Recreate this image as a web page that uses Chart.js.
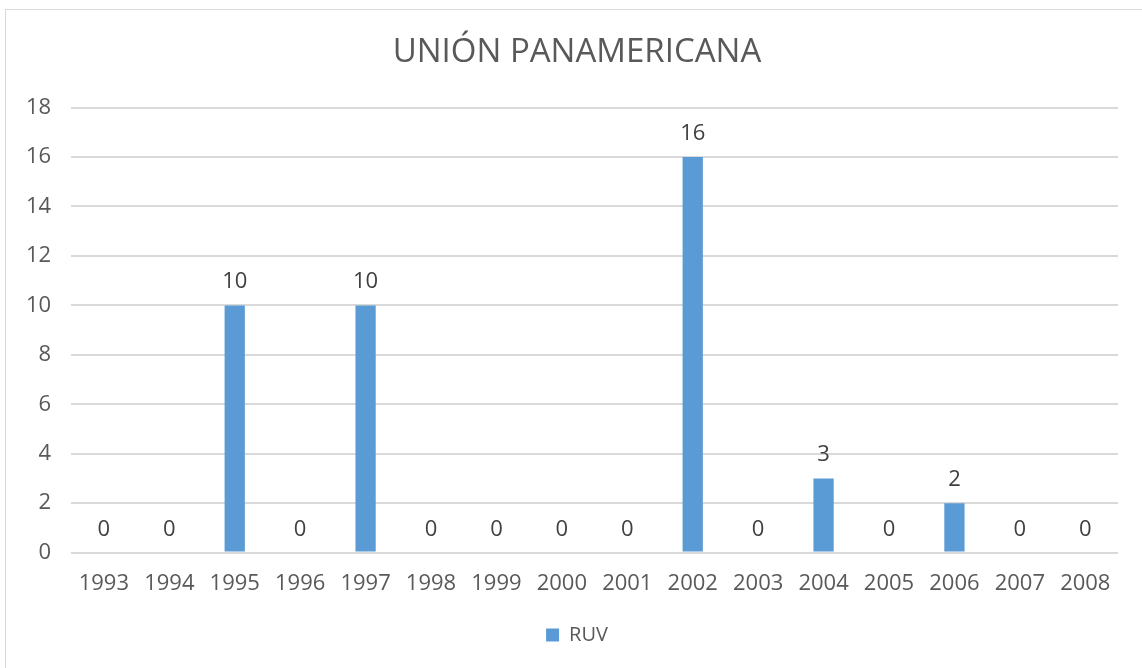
<!DOCTYPE html>
<html>
<head>
<meta charset="utf-8">
<script src="https://cdn.jsdelivr.net/npm/chart.js@4.4.1/dist/chart.umd.min.js"></script>
<style>
  body { margin: 0; background: #fff; overflow: hidden; }
  #marco { position: absolute; left: 5px; top: 9px; width: 1160px; height: 700px; border: 1px solid #d9d9d9; }
  #caja { position: absolute; left: 0; top: 0; width: 1160px; height: 668px; }
</style>
</head>
<body>
<div id="marco"></div>
<div id="caja"><canvas id="GraficoBarras"></canvas></div>
<script>
// datos del grafico
const anios = ['1993', '1994', '1995', '1996', '1997', '1998', '1999', '2000',
               '2001', '2002', '2003', '2004', '2005', '2006', '2007', '2008'];
const valoresRUV = [0, 0, 10, 0, 10, 0, 0, 0, 0, 16, 0, 3, 0, 2, 0, 0];
const titulo = 'UNIÓN PANAMERICANA';
const serie = 'RUV';

// etiquetas encima de cada barra
const etiquetasBarras = {
    id: 'etiquetasBarras',
    afterDatasetsDraw(chart) {
        const ctx = chart.ctx;
        ctx.save();
        ctx.font = '22px "Open Sans"';
        ctx.fillStyle = '#404040';
        ctx.textAlign = 'center';
        ctx.textBaseline = 'alphabetic';
        chart.getDatasetMeta(0).data.forEach(function (barra, i) {
            ctx.fillText(valoresRUV[i], barra.x, barra.y - 17);
        });
        ctx.restore();
    }
};

const ctx = document.getElementById('GraficoBarras');
new Chart(ctx, {
    type: 'bar',
    data: {
        labels: anios,
        datasets: [{
            label: serie,
            data: valoresRUV,
            backgroundColor: '#5b9bd5',
            barPercentage: 0.31,
            categoryPercentage: 1
        }]
    },
    options: {
        responsive: true,
        maintainAspectRatio: false,
        animation: false,
        layout: { padding: { left: 6, right: 12, top: 6, bottom: 13 } },
        plugins: {
            title: {
                display: true,
                text: titulo,
                color: '#595959',
                font: { family: 'Open Sans', size: 33, weight: 'normal' },
                padding: { top: 27, bottom: 35 }
            },
            legend: {
                position: 'bottom',
                labels: {
                    color: '#595959',
                    font: { family: 'Open Sans', size: 20 },
                    boxWidth: 13,
                    boxHeight: 13,
                    padding: 18
                }
            },
            tooltip: { enabled: false }
        },
        scales: {
            x: {
                grid: { display: false },
                border: { display: false },
                ticks: { color: '#595959', font: { family: 'Open Sans', size: 22 }, padding: 10 }
            },
            y: {
                min: 0,
                max: 18,
                ticks: { stepSize: 2, color: '#595959', font: { family: 'Open Sans', size: 22 }, padding: 20 },
                grid: { color: '#d9d9d9', lineWidth: 2, drawTicks: false },
                border: { display: false }
            },
            // eje vacio a la derecha, solo para dejar margen
            margen: {
                position: 'right',
                ticks: { display: false },
                grid: { display: false },
                border: { display: false },
                afterFit: function (escala) { escala.width = 30; }
            }
        }
    },
    plugins: [etiquetasBarras]
});
</script>
</body>
</html>
